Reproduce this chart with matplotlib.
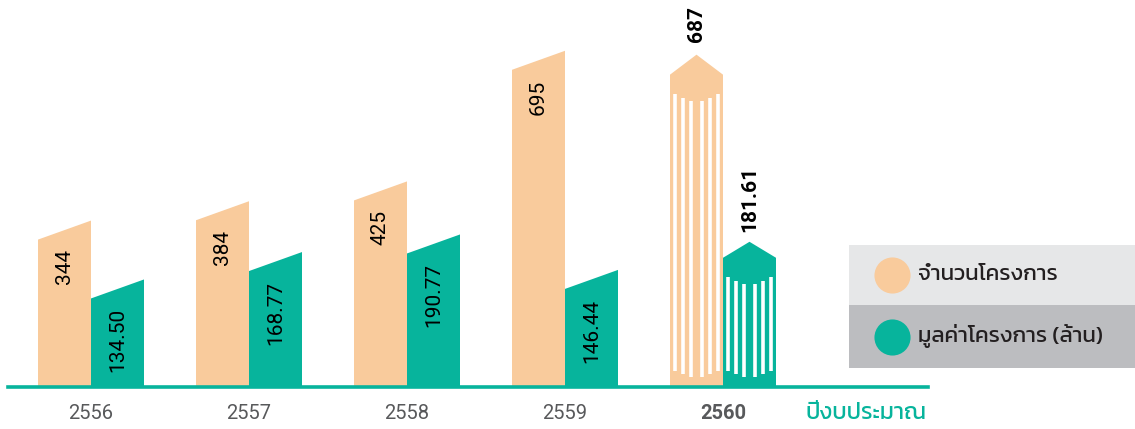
import matplotlib
matplotlib.use("Agg")
import matplotlib.pyplot as plt
from matplotlib.patches import Polygon, Rectangle
from matplotlib.lines import Line2D

# dati del grafico
years = ["2556", "2557", "2558", "2559", "2560"]
projects = [344, 384, 425, 695, 687]
value_mb = [134.50, 168.77, 190.77, 146.44, 181.61]
project_labels = ["344", "384", "425", "695", "687"]
value_labels = ["134.50", "168.77", "190.77", "146.44", "181.61"]
series_names = ["จำนวนโครงการ", "มูลค่าโครงการ (ล้าน)"]
xlabel = "ปีงบประมาณ"

ORANGE = "#F9CB9C"
GREEN = "#07B49C"
GREY_TXT = "#58595B"

plt.rcParams['font.family'] = ['Roboto', 'Kanit', 'DejaVu Sans']

W, H = 1135, 429
AX_H = 387  # altezza asse in pixel
fig = plt.figure(figsize=(W / 100, H / 100), dpi=100)
ax = fig.add_axes([8 / W, 42 / H, 920 / W, AX_H / H])
ax2 = ax.twinx()
ymax_o, ymax_g = 800, 484
ax.set_ylim(0, ymax_o)
ax2.set_ylim(0, ymax_g)
ax.set_xlim(-83 / 158, 837 / 158)
ax2.set_xlim(ax.get_xlim())


def px(p, ymax):
    # converte pixel verticali in unita' dell'asse
    return p * ymax / AX_H


bw = 53 / 158
n = len(years)


def draw_bar(a, x0, v, ymax, color, special, roof=18):
    x1 = x0 + bw
    xc = (x0 + x1) / 2
    if not special:
        s = px(19, ymax)
        pts = [(x0, 0), (x0, v - s), (x1, v), (x1, 0)]
        a.add_patch(Polygon(pts, closed=True, facecolor=color, edgecolor="none", zorder=2))
        return v - s
    r = px(roof, ymax)
    pts = [(x0, 0), (x0, v - r), (xc, v), (x1, v - r), (x1, 0)]
    a.add_patch(Polygon(pts, closed=True, facecolor=color, edgecolor="none", zorder=2))
    # righe bianche verticali
    for f in [0.1, 0.245, 0.4, 0.6, 0.755, 0.9]:
        t = 1 - abs(2 * f - 1)
        xs = x0 + f * bw
        y_top = v - r - px(17, ymax) - px(12, ymax) * t
        y_bot = px(18, ymax) - px(10, ymax) * t
        a.plot([xs, xs], [y_bot, y_top], color="white", lw=2.6,
               solid_capstyle="butt", zorder=3)
    return v


for i in range(n):
    special = i == n - 1
    top_o = draw_bar(ax, i - bw, projects[i], ymax_o, ORANGE, special, roof=20)
    top_g = draw_bar(ax2, i, value_mb[i], ymax_g, GREEN, special, roof=16)
    if not special:
        ax.annotate(project_labels[i], (i - bw / 2, top_o), xytext=(0, -7),
                    textcoords="offset points", rotation=90, ha="center",
                    va="top", fontsize=15, color="black", zorder=4)
        ax2.annotate(value_labels[i], (i + bw / 2, top_g), xytext=(0, -7),
                     textcoords="offset points", rotation=90, ha="center",
                     va="top", fontsize=15, color="black", zorder=4)
    else:
        ax.annotate(project_labels[i], (i - bw / 2, top_o), xytext=(0, 9),
                    textcoords="offset points", rotation=90, ha="center",
                    va="bottom", fontsize=15, fontweight="bold", color="black")
        ax2.annotate(value_labels[i], (i + bw / 2, top_g), xytext=(0, 7),
                     textcoords="offset points", rotation=90, ha="center",
                     va="bottom", fontsize=15, fontweight="bold", color="black")

# linea di base
ax2.axhline(0, color=GREEN, lw=2.6, zorder=5, clip_on=False)

for a in (ax, ax2):
    for sp in a.spines.values():
        sp.set_visible(False)
ax.set_yticks([])
ax2.set_yticks([])
ax.set_xticks(range(n))
ax.set_xticklabels(years, fontsize=14.5, color=GREY_TXT)
ax.get_xticklabels()[-1].set_fontweight("bold")
ax.tick_params(axis="x", length=0, pad=12)
ax.annotate(xlabel, ((866 - 91) / 158, 0), xycoords=("data", "axes fraction"),
            xytext=(0, -19), textcoords="offset points", ha="center",
            va="center", fontsize=16.5, color=GREEN, family=["Kanit"])

# legenda personalizzata
rows = [(245, 305, "#E6E7E8", ORANGE), (305, 368, "#BCBDC0", GREEN)]
for (ya, yb, bg, col), name in zip(rows, series_names):
    fig.add_artist(Rectangle((849 / W, 1 - yb / H), (W - 849) / W, (yb - ya) / H,
                             transform=fig.transFigure, facecolor=bg, edgecolor="none"))
    yc = 1 - (ya + yb) / 2 / H
    fig.add_artist(Line2D([892 / W], [yc], marker="o", markersize=26, color=col,
                          markeredgewidth=0, transform=fig.transFigure))
    fig.text(918 / W, yc, name, va="center", ha="left", fontsize=16,
             color="#231F20", family=["Kanit"])

fig.savefig("out.png", dpi=100)
